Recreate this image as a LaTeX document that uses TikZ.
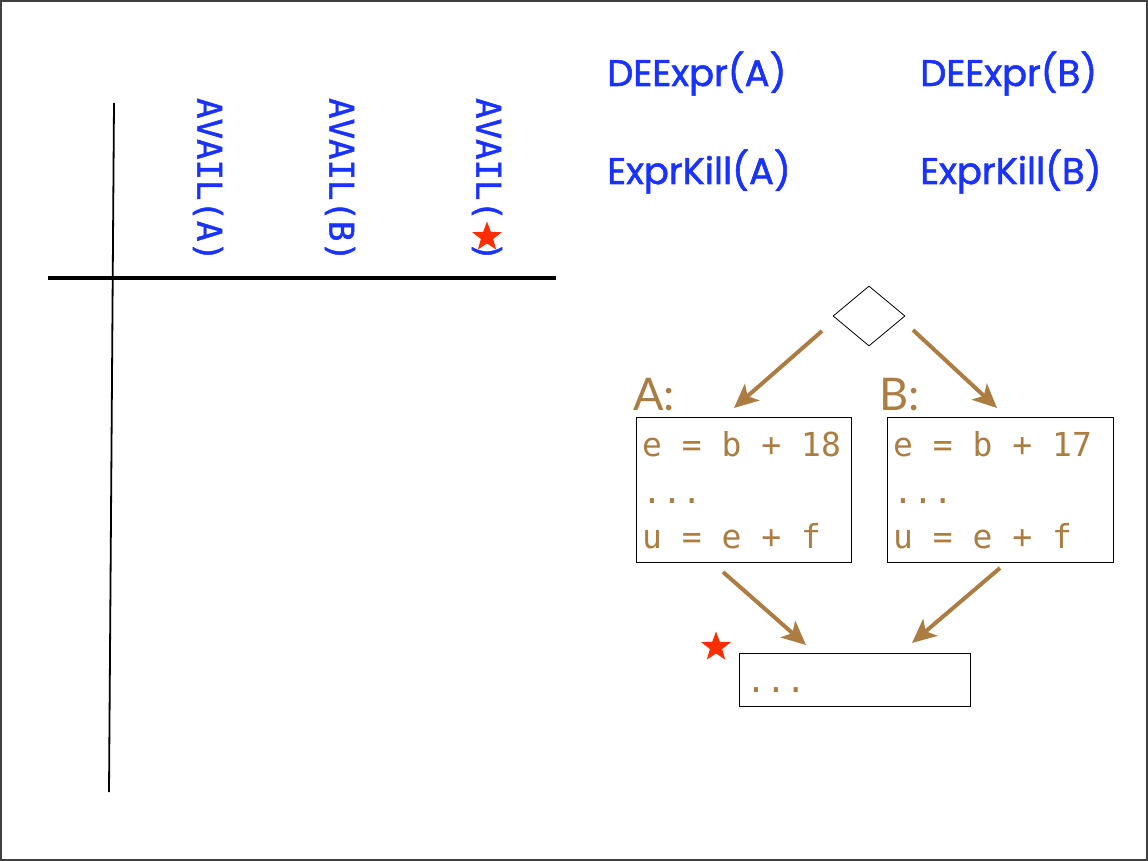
\documentclass[tikz,border=0pt]{standalone}
\usepackage{fontspec}
\setmainfont{Lato}
\newfontfamily\monof{DejaVu Sans Mono}
\newfontfamily\availf[FakeBold=1.3]{DejaVu Sans Mono}
\newfontfamily\exprf[FakeBold=1.5]{Poppins}
\usetikzlibrary{shapes.geometric,arrows.meta}
\definecolor{blu}{RGB}{25,50,255}
\definecolor{brn}{RGB}{172,125,66}
\definecolor{starred}{RGB}{255,45,0}
\begin{document}
\begin{tikzpicture}[x=1pt,y=-1pt,
  availtxt/.style={rotate=-90,text=blu,font=\availf\fontsize{34}{40}\selectfont,inner sep=0pt},
  exprtxt/.style={anchor=base west,text=blu,font=\exprf\fontsize{37}{44}\selectfont,inner sep=0pt},
  codetxt/.style={anchor=base west,text=brn,font=\monof\fontsize{33}{40}\selectfont,inner sep=0pt},
  blocklabel/.style={anchor=base west,text=brn,font=\fontsize{45}{54}\selectfont,inner sep=0pt},
  blockbox/.style={draw=black,line width=1pt,inner sep=0pt},
  redstar/.style={star,star points=5,star point ratio=2.4,fill=starred,draw=none,minimum size=31pt,inner sep=0pt},
  flow/.style={draw=brn,line width=4pt,-{Stealth[length=24pt,width=22pt,inset=6pt]}}]
\useasboundingbox (0,0) rectangle (1148,861);
\draw[black!75,line width=1.5pt] (1,1) rectangle (1147,860);
% table lines
\draw[black,line width=1.8pt] (114,103) -- (109,792);
\draw[black,line width=3.5pt] (48,278) -- (556,278);
% column headings
\node[availtxt] (availA) at (208,180) {AVAIL(A)};
\node[availtxt] (availB) at (340,180) {AVAIL(B)};
\node[availtxt] (availS) at (487,180) {AVAIL( )};
\node[redstar] (starS) at (487,237) {};
% expression sets
\node[exprtxt] (deA) at (607,86) {DEExpr(A)};
\node[exprtxt] (deB) at (920,86) {DEExpr(B)};
\node[exprtxt] (kiA) at (607,184) {ExprKill(A)};
\node[exprtxt] (kiB) at (920,184) {ExprKill(B)};
% CFG
\node[diamond,draw=black,line width=0.8pt,minimum width=72pt,minimum height=60pt,inner sep=0pt] (top) at (869,316) {};
\node[blockbox,minimum width=215pt,minimum height=145pt] (boxA) at (743.5,489.5) {};
\node[blockbox,minimum width=226pt,minimum height=145pt] (boxB) at (1000,489.5) {};
\node[blockbox,minimum width=231pt,minimum height=53pt] (boxC) at (854.5,679.5) {};
\node[blocklabel] (labA) at (633,410) {A:};
\node[blocklabel] (labB) at (879,410) {B:};
\node[codetxt] (a1) at (642,456) {e = b + 18};
\node[codetxt] (a2) at (642,503) {...};
\node[codetxt] (a3) at (642,548) {u = e + f};
\node[codetxt] (b1) at (893,456) {e = b + 17};
\node[codetxt] (b2) at (893,503) {...};
\node[codetxt] (b3) at (893,548) {u = e + f};
\node[codetxt] (c1) at (746,692) {...};
\node[redstar] (starC) at (716,647) {};
\coordinate (t1) at (822,331);
\coordinate (h1) at (734,408);
\coordinate (t2) at (913,330);
\coordinate (h2) at (997,408);
\coordinate (t3) at (723,572);
\coordinate (h3) at (806,645);
\coordinate (t4) at (1000,568);
\coordinate (h4) at (912,643);
\draw[flow] (t1) -- (h1);
\draw[flow] (t2) -- (h2);
\draw[flow] (t3) -- (h3);
\draw[flow] (t4) -- (h4);
\end{tikzpicture}
\end{document}
